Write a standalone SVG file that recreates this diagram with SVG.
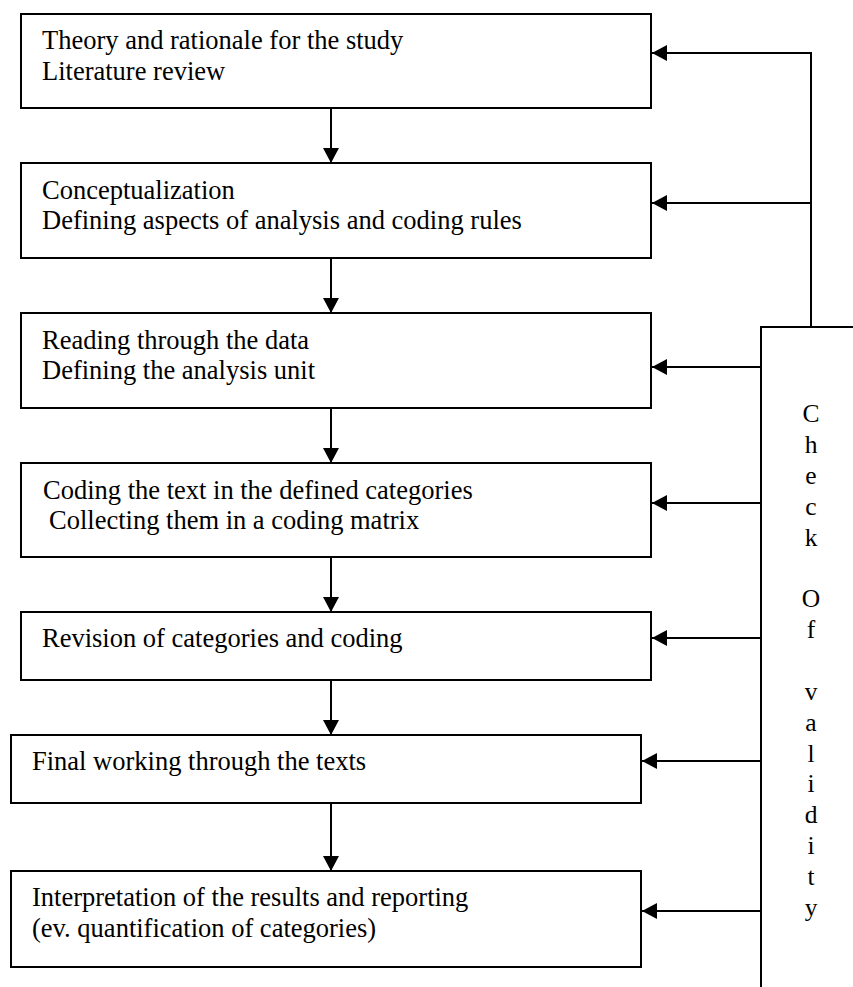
<svg xmlns="http://www.w3.org/2000/svg" width="853" height="987" viewBox="0 0 853 987">
  <style>
    .box { fill: #ffffff; stroke: #000000; stroke-width: 2; }
    .line { fill: none; stroke: #000000; stroke-width: 2; }
    .lbl { font-family: "Liberation Serif", "Times New Roman", serif; font-size: 26.5px; fill: #000000; }
    .chk { font-family: "Liberation Serif", "Times New Roman", serif; font-size: 25.5px; fill: #000000; text-anchor: middle; }
  </style>
  <defs>
    <marker id="arrow" markerUnits="userSpaceOnUse" markerWidth="15" markerHeight="16" refX="15" refY="8" orient="auto">
      <path d="M0,0 L15,8 L0,16 Z" fill="#000000"/>
    </marker>
  </defs>
  <rect width="853" height="987" fill="#ffffff"/>

  <g id="node-theory">
    <rect class="box" x="21" y="14" width="630" height="94"/>
    <text class="lbl" x="42" y="49">Theory and rationale for the study</text>
    <text class="lbl" x="42" y="80">Literature review</text>
  </g>
  <g id="node-conceptualization">
    <rect class="box" x="21" y="163" width="630" height="95"/>
    <text class="lbl" x="42" y="198.5">Conceptualization</text>
    <text class="lbl" x="42" y="229">Defining aspects of analysis and coding rules</text>
  </g>
  <g id="node-reading">
    <rect class="box" x="21" y="313" width="630" height="95"/>
    <text class="lbl" x="42" y="348.5">Reading through the data</text>
    <text class="lbl" x="42" y="379">Defining the analysis unit</text>
  </g>
  <g id="node-coding">
    <rect class="box" x="21" y="463" width="630" height="94"/>
    <text class="lbl" x="43" y="498.5">Coding the text in the defined categories</text>
    <text class="lbl" x="49" y="529">Collecting them in a coding matrix</text>
  </g>
  <g id="node-revision">
    <rect class="box" x="21" y="612" width="630" height="68"/>
    <text class="lbl" x="42" y="647">Revision of categories and coding</text>
  </g>
  <g id="node-final">
    <rect class="box" x="11" y="735" width="630" height="68"/>
    <text class="lbl" x="32" y="770">Final working through the texts</text>
  </g>
  <g id="node-interpretation">
    <rect class="box" x="11" y="871" width="630" height="96"/>
    <text class="lbl" x="32" y="906">Interpretation of the results and reporting</text>
    <text class="lbl" x="32" y="937">(ev. quantification of categories)</text>
  </g>
  <g id="node-check">
    <path class="line" d="M853,327 L761,327 L761,987"/>
    <text class="chk" x="811" y="422.3">C</text>
    <text class="chk" x="811" y="453.1">h</text>
    <text class="chk" x="811" y="484">e</text>
    <text class="chk" x="811" y="514.8">c</text>
    <text class="chk" x="811" y="545.7">k</text>
    <text class="chk" x="811" y="607.4">O</text>
    <text class="chk" x="811" y="638.2">f</text>
    <text class="chk" x="811" y="699.9">v</text>
    <text class="chk" x="811" y="730.7">a</text>
    <text class="chk" x="811" y="761.6">l</text>
    <text class="chk" x="811" y="792.4">i</text>
    <text class="chk" x="811" y="823.3">d</text>
    <text class="chk" x="811" y="854.1">i</text>
    <text class="chk" x="811" y="885">t</text>
    <text class="chk" x="811" y="915.8">y</text>
  </g>

  <g id="connectors">
    <line class="line" x1="331" y1="108" x2="331" y2="163" marker-end="url(#arrow)"/>
    <line class="line" x1="331" y1="258" x2="331" y2="313" marker-end="url(#arrow)"/>
    <line class="line" x1="331" y1="408" x2="331" y2="463" marker-end="url(#arrow)"/>
    <line class="line" x1="331" y1="557" x2="331" y2="612" marker-end="url(#arrow)"/>
    <line class="line" x1="331" y1="680" x2="331" y2="735" marker-end="url(#arrow)"/>
    <line class="line" x1="331" y1="803" x2="331" y2="871" marker-end="url(#arrow)"/>
    <line class="line" x1="811" y1="327" x2="811" y2="52"/>
    <line class="line" x1="812" y1="53" x2="652" y2="53" marker-end="url(#arrow)"/>
    <line class="line" x1="811" y1="203" x2="652" y2="203" marker-end="url(#arrow)"/>
    <line class="line" x1="761" y1="367" x2="652" y2="367" marker-end="url(#arrow)"/>
    <line class="line" x1="761" y1="503" x2="652" y2="503" marker-end="url(#arrow)"/>
    <line class="line" x1="761" y1="638" x2="652" y2="638" marker-end="url(#arrow)"/>
    <line class="line" x1="761" y1="761" x2="642" y2="761" marker-end="url(#arrow)"/>
    <line class="line" x1="761" y1="911" x2="642" y2="911" marker-end="url(#arrow)"/>
  </g>
</svg>
